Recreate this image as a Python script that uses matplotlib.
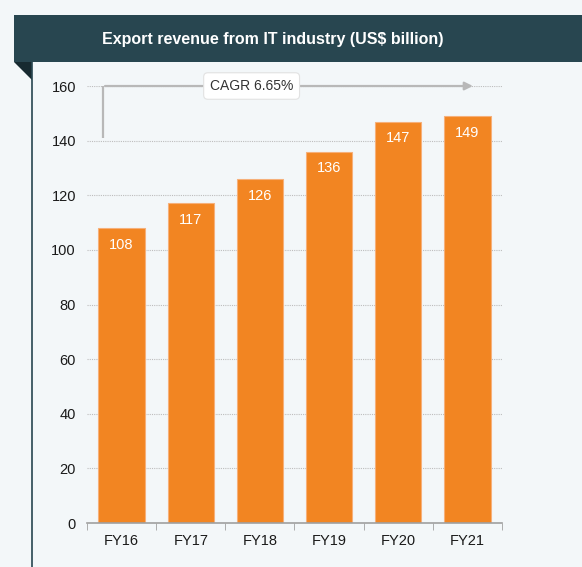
import matplotlib.pyplot as plt
from matplotlib.patches import Rectangle, Polygon

# data
years = ['FY16', 'FY17', 'FY18', 'FY19', 'FY20', 'FY21']
revenue = [108, 117, 126, 136, 147, 149]
yticks = [0, 20, 40, 60, 80, 100, 120, 140, 160]
title = 'Export revenue from IT industry (US$ billion)'
cagr_label = 'CAGR 6.65%'

BG = '#f3f7f9'
ORANGE = '#f28522'
HEADER = '#284650'
TEXT = '#1a1a1a'

plt.rcParams['font.family'] = ['Liberation Sans', 'DejaVu Sans']

fig = plt.figure(figsize=(5.82, 5.67), dpi=100)
fig.patch.set_facecolor(BG)

# header band
fig.patches.append(Rectangle((0.024, 0.8907), 0.976, 0.0828, transform=fig.transFigure,
                             facecolor=HEADER, edgecolor='none', zorder=1))
fig.patches.append(Polygon([(0.024, 0.8907), (0.055, 0.8907), (0.055, 0.859)],
                           closed=True, transform=fig.transFigure,
                           facecolor='#172a30', edgecolor='none', zorder=1))
fig.lines.append(plt.Line2D([0.055, 0.055], [0.0, 0.8907], transform=fig.transFigure,
                            color=HEADER, lw=1.2))
fig.text(0.468, 0.9295, title, color='white', fontsize=11.5, fontweight='bold',
         ha='center', va='center')

ax = fig.add_axes([0.1495, 0.0776, 0.713, 0.7707])
ax.set_facecolor(BG)
x = range(len(years))
ax.bar(x, revenue, width=0.67, color=ORANGE, edgecolor='#f6b07a', linewidth=0.8, zorder=2)

for xi, v in zip(x, revenue):
    ax.annotate(str(v), (xi, v), xytext=(0, -12), textcoords='offset points',
                ha='center', va='center', color='white', fontsize=10.5, zorder=3)

ax.set_xlim(-0.5, len(years) - 0.5)
ax.set_ylim(0, 160)
ax.set_yticks(yticks)
ax.set_yticklabels([str(t) for t in yticks], fontsize=10.5, color=TEXT)
ax.set_xticks(list(x))
ax.set_xticklabels(years, fontsize=10.5, color=TEXT)
ax.tick_params(axis='y', length=0, pad=8)
ax.tick_params(axis='x', length=0, pad=8)
# boundary ticks on the bottom axis
ax.set_xticks([i - 0.5 for i in range(len(years) + 1)], minor=True)
ax.tick_params(axis='x', which='minor', length=5, color='#a0a0a0', direction='out')
ax.grid(axis='y', color='#bdbdbd', linestyle=(0, (1, 1)), linewidth=0.8, zorder=0)
for s in ['top', 'right', 'left']:
    ax.spines[s].set_visible(False)
ax.spines['bottom'].set_color('#a0a0a0')
ax.spines['bottom'].set_linewidth(1.2)

# CAGR arrow
ax.plot([-0.27, -0.27], [141, 160], color='#b8b8b8', lw=1.6, clip_on=False, zorder=3,
        solid_capstyle='butt')
ax.annotate('', xy=(5.12, 160), xytext=(-0.28, 160),
            arrowprops=dict(arrowstyle='-|>', color='#b8b8b8', lw=1.6, mutation_scale=12),
            annotation_clip=False, zorder=3)
ax.text(1.88, 160, cagr_label, ha='center', va='center', fontsize=10, color='#333333',
        zorder=4, clip_on=False,
        bbox=dict(boxstyle='round,pad=0.45,rounding_size=0.3', facecolor='white',
                  edgecolor='#e2e2e2', linewidth=0.8))

fig.savefig('out.png', dpi=100, facecolor=fig.get_facecolor())
